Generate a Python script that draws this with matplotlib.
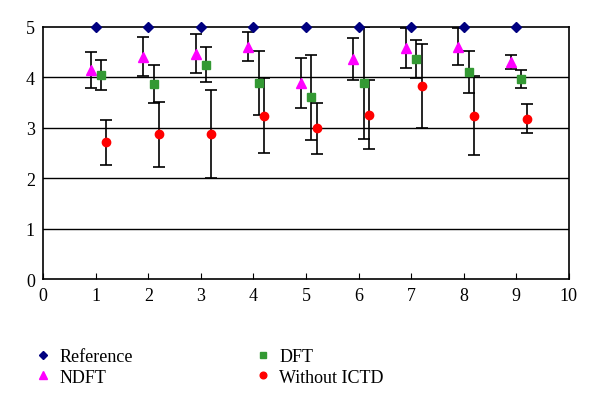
import numpy as np
import matplotlib
matplotlib.use("Agg")
import matplotlib.pyplot as plt

plt.rcParams['font.family'] = ['Liberation Serif', 'DejaVu Serif']

# data
x = np.arange(1, 10)
reference = [5, 5, 5, 5, 5, 5, 5, 5, 5]

ndft = [4.14, 4.41, 4.47, 4.61, 3.89, 4.36, 4.58, 4.61, 4.31]
ndft_err = [0.36, 0.38, 0.38, 0.28, 0.50, 0.42, 0.39, 0.37, 0.14]

dft = [4.05, 3.87, 4.25, 3.89, 3.60, 3.89, 4.36, 4.10, 3.96]
dft_err = [0.30, 0.38, 0.35, 0.63, 0.85, 1.11, 0.38, 0.42, 0.18]

no_ictd = [2.71, 2.87, 2.87, 3.24, 2.99, 3.26, 3.83, 3.24, 3.18]
no_ictd_err = [0.45, 0.65, 0.87, 0.75, 0.51, 0.69, 0.84, 0.79, 0.29]

fig = plt.figure(figsize=(6, 4.1), dpi=100)
ax = fig.add_axes([0.072, 0.317, 0.876, 0.615])

for yy in [1, 2, 3, 4]:
    ax.axhline(yy, color='black', lw=1.0, zorder=1)

eb = dict(fmt='none', ecolor='black', elinewidth=1.2, capsize=4, capthick=1.2, zorder=2)
ax.errorbar(x - 0.1, ndft, yerr=ndft_err, **eb)
ax.errorbar(x + 0.1, dft, yerr=dft_err, **eb)
ax.errorbar(x + 0.2, no_ictd, yerr=no_ictd_err, **eb)

h1, = ax.plot(x, reference, 'D', color='#000080', ms=5, ls='none', zorder=3, label='Reference', clip_on=False)
h2, = ax.plot(x - 0.1, ndft, '^', color='#ff00ff', ms=7, ls='none', zorder=3, label='NDFT')
h3, = ax.plot(x + 0.1, dft, 's', color='#339933', ms=6, ls='none', zorder=3, label='DFT')
h4, = ax.plot(x + 0.2, no_ictd, 'o', color='#ff0000', ms=6, ls='none', zorder=3, label='Without ICTD')

ax.set_xlim(0, 10)
ax.set_ylim(0, 5)
ax.set_xticks(range(0, 11))
ax.set_yticks(range(0, 6))
ax.tick_params(axis='x', direction='in', length=4, labelsize=13, pad=6)
ax.tick_params(axis='y', length=0, labelsize=13, pad=6)
for s in ax.spines.values():
    s.set_linewidth(1.2)

fig.legend(handles=[h1, h2, h3, h4], ncol=2, loc='upper left',
           bbox_to_anchor=(0.03, 0.188), frameon=False, fontsize=13,
           handlelength=1.0, handletextpad=0.4, columnspacing=6.7,
           labelspacing=0.2, markerscale=0.8)

fig.savefig('out.png', dpi=100)
